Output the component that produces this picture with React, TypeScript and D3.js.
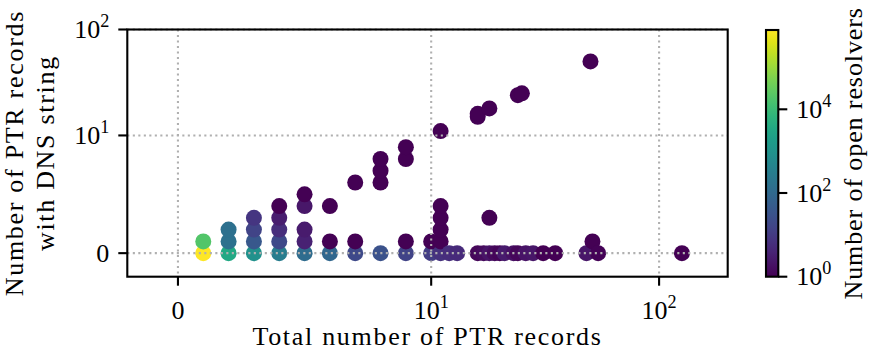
import * as d3 from "d3";

// total PTR records, PTR records with DNS string, open resolvers per point
const ptrTotal = [
  1, 1,
  2, 2, 2,
  3, 3, 3, 3,
  4, 4, 4, 4, 4,
  5, 5, 5, 5, 5,
  6, 6, 6,
  7, 7, 7,
  8, 8, 8, 8,
  9, 9, 9, 9,
  10, 10,
  11, 11, 11, 11, 11, 11,
  12, 13,
  16, 16, 16, 17, 18, 18, 18, 19, 20, 21, 23, 24, 24, 25, 26, 28, 31, 35,
  48, 51, 54, 50, 126,
];
const ptrDns = [
  0, 1,
  0, 1, 2,
  0, 1, 2, 3,
  0, 1, 2, 3, 4,
  0, 1, 2, 4, 5,
  0, 1, 4,
  0, 1, 6,
  0, 6, 7, 8,
  0, 1, 8, 9,
  0, 1,
  0, 1, 2, 3, 4, 11,
  0, 0,
  0, 15, 16, 0, 0, 3, 18, 0, 0, 0, 0, 0, 24, 25, 0, 0, 0, 0,
  0, 1, 0, 50, 0,
];
const resolvers = [
  785000, 20000,
  3500, 150, 140,
  900, 40, 15, 8,
  300, 20, 6, 3, 1,
  115, 3.4, 2.6, 2.3, 1,
  90, 1, 1,
  20, 1, 1,
  30, 1, 1, 1,
  15, 1, 1, 1,
  11, 1,
  7, 1, 1, 1, 1, 1,
  6, 5,
  1.3, 1, 1, 1.5, 2, 1, 1, 1.4, 1.2, 2.6, 1.8, 1.3, 1, 1, 2, 2.3, 1, 1,
  2.3, 1, 1.1, 1, 1,
];

const xTicks = [0, 10, 100];
const yTicks = [0, 10, 100];
const cbTicks = [1, 100, 10000];
const cbMax = 785000;

const W = 871;
const H = 352;
const FONT = "'Liberation Serif', 'DejaVu Serif', serif";
const FS = 26;
const LS = 1.7; // widen labels a bit, closer to Computer Modern

// matplotlib-style symlog, linthresh 10, linscale 1
const LT = 10;
const LSA = 1 / (1 - 1 / 10);
function symlog(v: number) {
  const a = Math.abs(v);
  if (a <= LT) return v * LSA;
  return Math.sign(v) * LT * (LSA + Math.log10(a / LT));
}

const left = 127.3, right = 727.7, top = 29.5, bottom = 276.7;
const tickLen = 9, pad = 9;

function Pow({ v, x, y, anchor }: { v: number; x: number; y: number; anchor: string }) {
  if (v === 0) {
    return (
      <text x={x} y={y} textAnchor={anchor} fontFamily={FONT} fontSize={FS}>0</text>
    );
  }
  const e = Math.round(Math.log10(v));
  return (
    <text x={x} y={y} textAnchor={anchor} fontFamily={FONT} fontSize={FS}>
      10<tspan fontSize={FS * 0.7} dy={-11}>{e}</tspan>
    </text>
  );
}

export default function App() {
  const x = d3.scaleLinear().domain([symlog(-2), symlog(200)]).range([left, right]);
  const y = d3.scaleLinear().domain([symlog(-2), symlog(100)]).range([bottom, top]);
  const color = d3.scaleSequentialLog(d3.interpolateViridis).domain([1, cbMax]);

  const cbLeft = 766, cbRight = 778.3;
  const cb = d3.scaleLog().domain([1, cbMax]).range([bottom, 30]);
  const stops = d3.range(0, 1.0001, 0.05);

  const points = ptrTotal.map((t, i) => ({ t, d: ptrDns[i], n: resolvers[i] }));
  const grid = "#b0b0b0";

  return (
    <div style={{ position: "absolute", left: 0, top: 0 }}>
      <svg width={W} height={H} style={{ display: "block", background: "#fff" }}>
        <defs>
          <linearGradient id="vir" x1="0" y1="1" x2="0" y2="0">
            {stops.map((s) => (
              <stop key={s} offset={s} stopColor={d3.interpolateViridis(s)} />
            ))}
          </linearGradient>
        </defs>

        {points.map((p, i) => (
          <circle key={i} cx={x(symlog(p.t))} cy={y(symlog(p.d))} r={8} fill={color(p.n)} />
        ))}

        {xTicks.map((v) => (
          <line key={"gx" + v} x1={x(symlog(v))} x2={x(symlog(v))} y1={top} y2={bottom}
            stroke={grid} strokeWidth={2.1} strokeDasharray="2.1 3.4" />
        ))}
        {yTicks.map((v) => (
          <line key={"gy" + v} x1={left} x2={right} y1={y(symlog(v))} y2={y(symlog(v))}
            stroke={grid} strokeWidth={2.1} strokeDasharray="2.1 3.4" />
        ))}

        <rect x={left} y={top} width={right - left} height={bottom - top}
          fill="none" stroke="#000" strokeWidth={2.1} />

        {xTicks.map((v) => (
          <g key={"tx" + v}>
            <line x1={x(symlog(v))} x2={x(symlog(v))} y1={bottom} y2={bottom + tickLen}
              stroke="#000" strokeWidth={2.1} />
            <Pow v={v} x={x(symlog(v))} y={bottom + tickLen + pad + 24} anchor="middle" />
          </g>
        ))}
        {yTicks.map((v) => (
          <g key={"ty" + v}>
            <line x1={left - tickLen} x2={left} y1={y(symlog(v))} y2={y(symlog(v))}
              stroke="#000" strokeWidth={2.1} />
            <Pow v={v} x={left - tickLen - pad} y={y(symlog(v)) + 8.5} anchor="end" />
          </g>
        ))}

        <text x={(left + right) / 2} y={345} textAnchor="middle" fontFamily={FONT} fontSize={FS}
          letterSpacing={LS}>
          Total number of PTR records
        </text>
        <text transform={`translate(23,${(top + bottom) / 2}) rotate(-90)`} textAnchor="middle"
          fontFamily={FONT} fontSize={FS} letterSpacing={LS}>Number of PTR records</text>
        <text transform={`translate(54,${(top + bottom) / 2}) rotate(-90)`} textAnchor="middle"
          fontFamily={FONT} fontSize={FS} letterSpacing={LS}>with DNS string</text>

        <rect x={cbLeft} y={30} width={cbRight - cbLeft} height={bottom - 30}
          fill="url(#vir)" stroke="#000" strokeWidth={2.1} />
        {cbTicks.map((v) => (
          <g key={"cb" + v}>
            <line x1={cbRight} x2={cbRight + tickLen} y1={cb(v)} y2={cb(v)} stroke="#000" strokeWidth={2.1} />
            <Pow v={v} x={cbRight + tickLen + pad} y={cb(v) + 8.5} anchor="start" />
          </g>
        ))}
        <text transform={`translate(862,${(30 + bottom) / 2}) rotate(-90)`} textAnchor="middle"
          fontFamily={FONT} fontSize={FS} letterSpacing={0.9}>Number of open resolvers</text>
      </svg>
    </div>
  );
}
